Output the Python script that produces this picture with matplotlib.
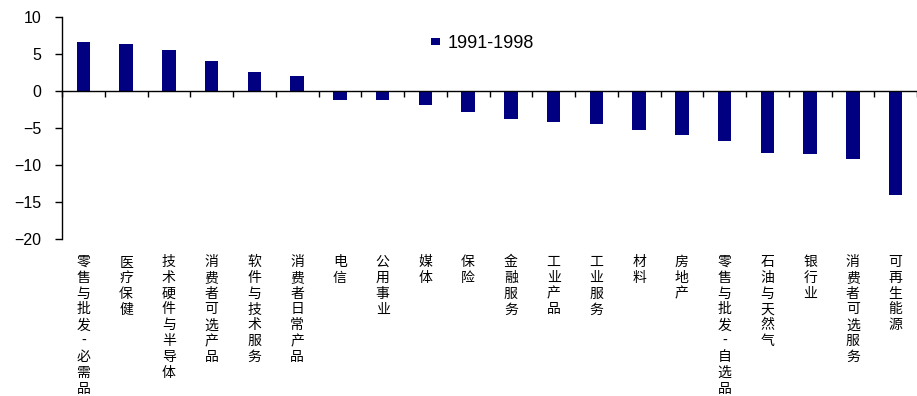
import matplotlib
matplotlib.use("Agg")
import matplotlib.pyplot as plt
import numpy as np

sectors = ['零售与批发-必需品', '医疗保健', '技术硬件与半导体', '消费者可选产品',
           '软件与技术服务', '消费者日常产品', '电信', '公用事业', '媒体', '保险',
           '金融服务', '工业产品', '工业服务', '材料', '房地产',
           '零售与批发-自选品', '石油与天然气', '银行业', '消费者可选服务', '可再生能源']
values = [6.6, 6.4, 5.5, 4.1, 2.6, 2.0, -1.2, -1.2, -1.9, -2.9,
          -3.8, -4.2, -4.5, -5.3, -5.9, -6.7, -8.4, -8.5, -9.2, -14.1]
series_name = '1991-1998'

plt.rcParams['font.family'] = ['Liberation Sans', 'DejaVu Sans']

fig = plt.figure(figsize=(9.17, 3.96), dpi=100)
ax = fig.add_axes([62 / 917, 1 - 239 / 396, 855 / 917, 222 / 396])

x = np.arange(len(sectors))
ax.bar(x, values, width=0.32, color='#000080', label=series_name, zorder=2)

ax.set_xlim(-0.5, len(sectors) - 0.5)
ax.set_ylim(-20, 10)
ax.set_yticks([10, 5, 0, -5, -10, -15, -20])
ax.tick_params(axis='y', direction='out', length=5, width=1, pad=10,
               labelsize=11.5, color='black')

# zero line carries the category separators
ax.spines['top'].set_visible(False)
ax.spines['right'].set_visible(False)
ax.spines['bottom'].set_position(('data', 0))
ax.spines['left'].set_linewidth(1)
ax.spines['bottom'].set_linewidth(1)

# sector names written top to bottom, one character per line
ax.set_xticks(x)
ax.set_xticklabels(['\n'.join(s) for s in sectors],
                   family=['Noto Sans CJK SC', 'DejaVu Sans'],
                   fontsize=10, linespacing=1.17)
ax.set_xticks(np.arange(len(sectors) + 1) - 0.5, minor=True)
ax.tick_params(axis='x', which='major', length=0, pad=118)
ax.tick_params(axis='x', which='minor', direction='out', length=4, width=1)

ax.legend(loc='upper left', bbox_to_anchor=(431 / 917, 1 - 35 / 396),
          bbox_transform=fig.transFigure, frameon=False, fontsize=13,
          handlelength=0.5, handleheight=0.2, handletextpad=0.4,
          borderpad=0, borderaxespad=0)

fig.savefig('out.png', dpi=100)
